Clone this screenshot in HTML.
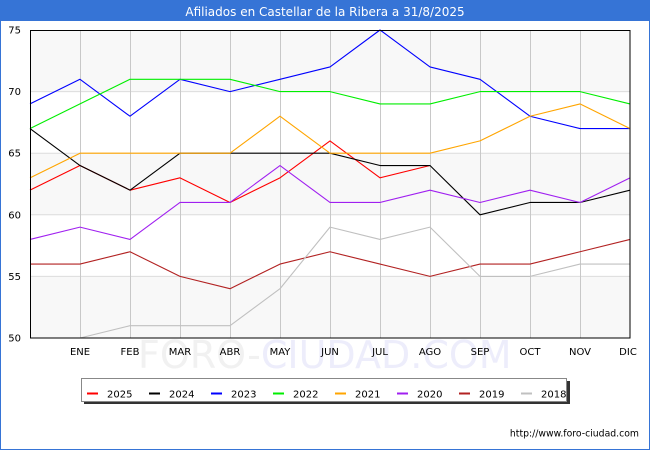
<!DOCTYPE html>
<html>
<head>
<meta charset="utf-8">
<style>
html,body{margin:0;padding:0;background:#fff;}
svg{display:block;}
text{font-family:"DejaVu Sans","Liberation Sans",sans-serif;}
</style>
</head>
<body>
<svg width="650" height="450" viewBox="0 0 650 450" xmlns="http://www.w3.org/2000/svg">
  <rect x="0" y="0" width="650" height="450" fill="#ffffff"/>
  <!-- header -->
  <rect x="0" y="0" width="650" height="21" fill="#3674d6"/>
  <text x="325" y="16" font-size="12" fill="#ffffff" text-anchor="middle">Afiliados en Castellar de la Ribera a 31/8/2025</text>
  <!-- border -->
  <rect x="0.5" y="0.5" width="649" height="449" fill="none" stroke="#3674d6" stroke-width="1"/>

  <!-- watermark -->
  <text x="138" y="368" font-size="38" fill="#f1f1f1">FORO-<tspan fill="#ededfb">CIUDAD.COM</tspan></text>

  <!-- plot bands -->
  <rect x="30" y="30" width="600" height="61.6" fill="#f8f8f8"/>
  <rect x="30" y="91.6" width="600" height="61.6" fill="#ffffff"/>
  <rect x="30" y="153.2" width="600" height="61.6" fill="#f8f8f8"/>
  <rect x="30" y="214.8" width="600" height="61.6" fill="#ffffff"/>
  <rect x="30" y="276.4" width="600" height="61.6" fill="#f8f8f8"/>

  <!-- horizontal grid -->
  <g stroke="#dcdcdc" stroke-width="1">
    <line x1="30" y1="91.6" x2="630" y2="91.6"/>
    <line x1="30" y1="153.2" x2="630" y2="153.2"/>
    <line x1="30" y1="214.8" x2="630" y2="214.8"/>
    <line x1="30" y1="276.4" x2="630" y2="276.4"/>
  </g>
  <!-- vertical grid -->
  <g stroke="#c8c8c8" stroke-width="1">
    <line x1="80.5" y1="30" x2="80.5" y2="338"/>
    <line x1="130.5" y1="30" x2="130.5" y2="338"/>
    <line x1="180.5" y1="30" x2="180.5" y2="338"/>
    <line x1="230.5" y1="30" x2="230.5" y2="338"/>
    <line x1="280.5" y1="30" x2="280.5" y2="338"/>
    <line x1="330.5" y1="30" x2="330.5" y2="338"/>
    <line x1="380.5" y1="30" x2="380.5" y2="338"/>
    <line x1="430.5" y1="30" x2="430.5" y2="338"/>
    <line x1="480.5" y1="30" x2="480.5" y2="338"/>
    <line x1="530.5" y1="30" x2="530.5" y2="338"/>
    <line x1="580.5" y1="30" x2="580.5" y2="338"/>
  </g>

  <!-- series -->
  <g fill="none" stroke-width="1.1" stroke-linejoin="round">
    <!-- 2025 -->
    <polyline stroke="#ff0000" points="30,190.16 80,165.52 130,190.16 180,177.84 230,202.48 280,177.84 330,140.88 380,177.84 430,165.52"/>
    <!-- 2024 -->
    <polyline stroke="#000000" points="30,128.56 80,165.52 130,190.16 180,153.2 230,153.2 280,153.2 330,153.2 380,165.52 430,165.52 480,214.8 530,202.48 580,202.48 630,190.16"/>
    <!-- 2023 -->
    <polyline stroke="#0000ff" points="30,103.92 80,79.28 130,116.24 180,79.28 230,91.6 280,79.28 330,66.96 380,30 430,66.96 480,79.28 530,116.24 580,128.56 630,128.56"/>
    <!-- 2022 -->
    <polyline stroke="#00ee00" points="30,128.56 80,103.92 130,79.28 180,79.28 230,79.28 280,91.6 330,91.6 380,103.92 430,103.92 480,91.6 530,91.6 580,91.6 630,103.92"/>
    <!-- 2021 -->
    <polyline stroke="#ffa500" points="30,177.84 80,153.2 130,153.2 180,153.2 230,153.2 280,116.24 330,153.2 380,153.2 430,153.2 480,140.88 530,116.24 580,103.92 630,128.56"/>
    <!-- 2020 -->
    <polyline stroke="#a020f0" points="30,239.44 80,227.12 130,239.44 180,202.48 230,202.48 280,165.52 330,202.48 380,202.48 430,190.16 480,202.48 530,190.16 580,202.48 630,177.84"/>
    <!-- 2019 -->
    <polyline stroke="#b22222" points="30,264.08 80,264.08 130,251.76 180,276.4 230,288.72 280,264.08 330,251.76 380,264.08 430,276.4 480,264.08 530,264.08 580,251.76 630,239.44"/>
    <!-- 2018 -->
    <polyline stroke="#c0c0c0" points="80,338 130,325.68 180,325.68 230,325.68 280,288.72 330,227.12 380,239.44 430,227.12 480,276.4 530,276.4 580,264.08 630,264.08"/>
  </g>

  <!-- plot frame -->
  <rect x="30.5" y="30.5" width="599.5" height="307.5" fill="none" stroke="#000" stroke-width="1"/>

  <!-- y labels -->
  <g font-size="10" fill="#000" text-anchor="end">
    <text x="21" y="33.5">75</text>
    <text x="21" y="95">70</text>
    <text x="21" y="156.7">65</text>
    <text x="21" y="218.3">60</text>
    <text x="21" y="279.9">55</text>
    <text x="21" y="341.5">50</text>
  </g>
  <!-- x labels -->
  <g font-size="10" fill="#000" text-anchor="middle">
    <text x="80" y="355">ENE</text>
    <text x="130" y="355">FEB</text>
    <text x="180" y="355">MAR</text>
    <text x="230" y="355">ABR</text>
    <text x="280" y="355">MAY</text>
    <text x="330" y="355">JUN</text>
    <text x="380" y="355">JUL</text>
    <text x="430" y="355">AGO</text>
    <text x="480" y="355">SEP</text>
    <text x="530" y="355">OCT</text>
    <text x="580" y="355">NOV</text>
    <text x="628" y="355">DIC</text>
  </g>

  <!-- legend -->
  <rect x="84" y="381" width="486" height="23" fill="#333"/>
  <rect x="81.5" y="378.5" width="485" height="23" fill="#fff" stroke="#888" stroke-width="1"/>
  <g stroke-width="2">
    <line x1="87" y1="393.5" x2="98" y2="393.5" stroke="#ff0000"/>
    <line x1="149" y1="393.5" x2="160" y2="393.5" stroke="#000000"/>
    <line x1="211" y1="393.5" x2="222" y2="393.5" stroke="#0000ff"/>
    <line x1="273" y1="393.5" x2="284" y2="393.5" stroke="#00ee00"/>
    <line x1="335" y1="393.5" x2="346" y2="393.5" stroke="#ffa500"/>
    <line x1="397" y1="393.5" x2="408" y2="393.5" stroke="#a020f0"/>
    <line x1="459" y1="393.5" x2="470" y2="393.5" stroke="#b22222"/>
    <line x1="521" y1="393.5" x2="532" y2="393.5" stroke="#c0c0c0"/>
  </g>
  <g font-size="10" fill="#000">
    <text x="107" y="397.5">2025</text>
    <text x="169" y="397.5">2024</text>
    <text x="231" y="397.5">2023</text>
    <text x="293" y="397.5">2022</text>
    <text x="355" y="397.5">2021</text>
    <text x="417" y="397.5">2020</text>
    <text x="479" y="397.5">2019</text>
    <text x="541" y="397.5">2018</text>
  </g>

  <!-- footer -->
  <text x="639" y="436.5" font-size="9.3" fill="#000" text-anchor="end">http://www.foro-ciudad.com</text>
</svg>
</body>
</html>
